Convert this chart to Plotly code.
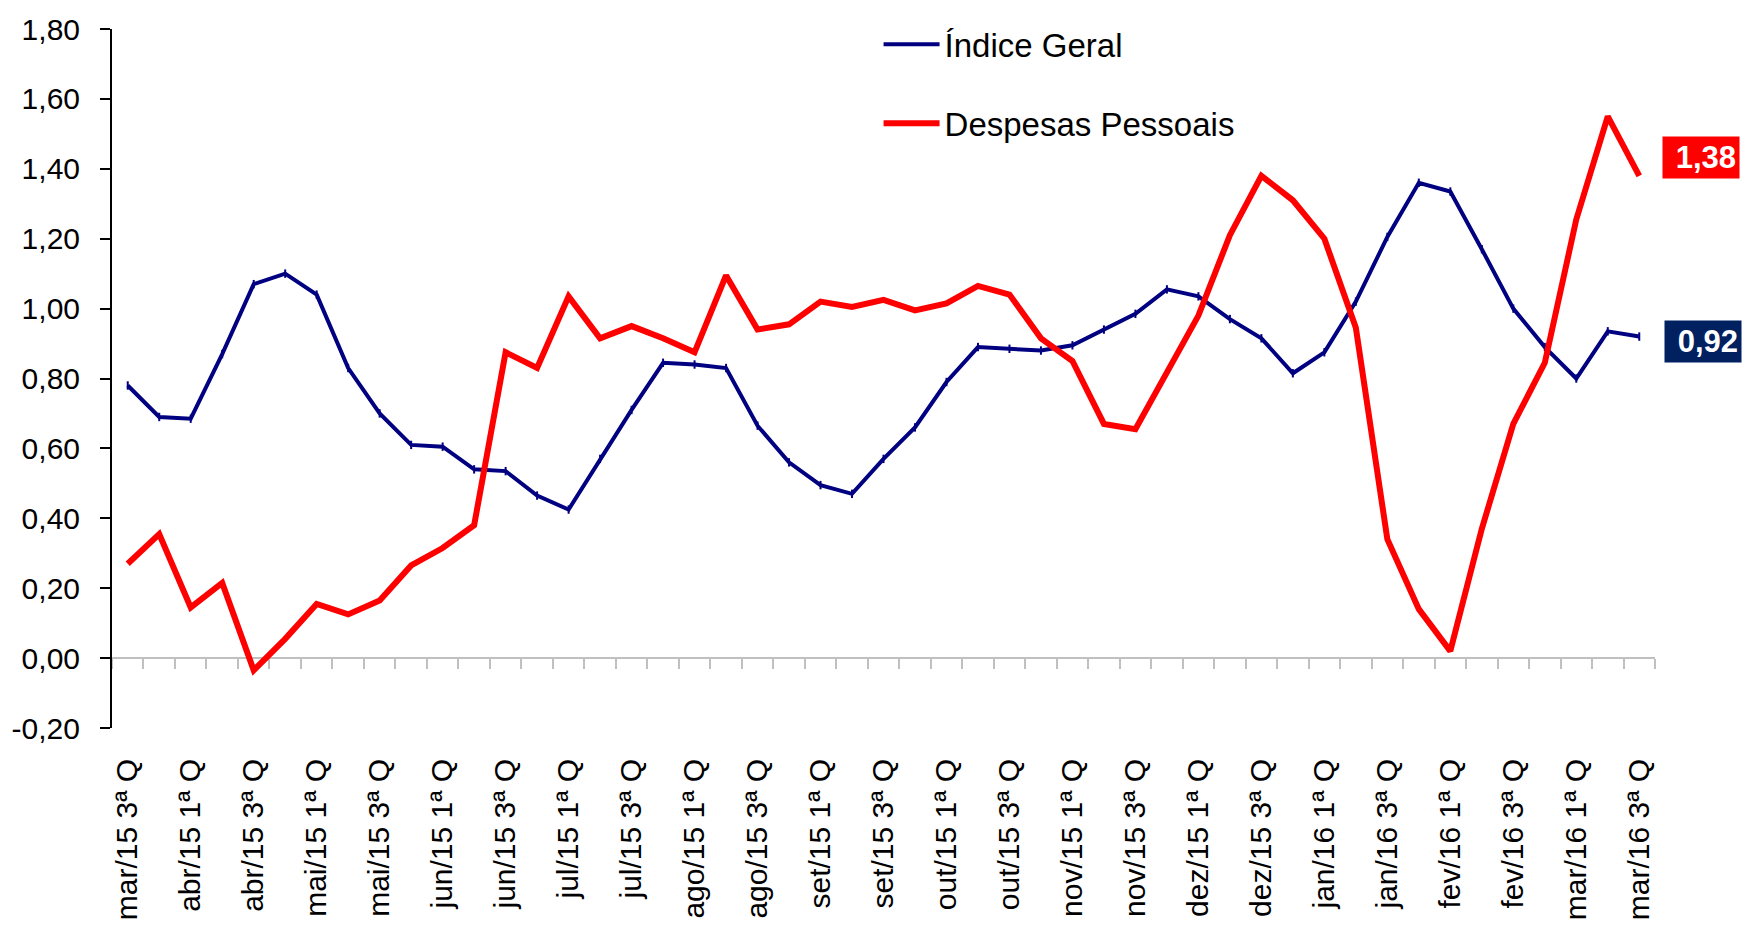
import plotly.graph_objects as go

# ---- data -----------------------------------------------------------------
months = ["mar/15", "abr/15", "mai/15", "jun/15", "jul/15", "ago/15", "set/15",
          "out/15", "nov/15", "dez/15", "jan/16", "fev/16", "mar/16"]
quads = ["1ª Q", "2ª Q", "3ª Q", "4ª Q"]

categories = ([f"{months[0]} {q}" for q in quads[2:]]
              + [f"{m} {q}" for m in months[1:-1] for q in quads]
              + [f"{months[-1]} {q}" for q in quads[:3]])

indice_geral = [0.78, 0.69, 0.685, 0.87, 1.07, 1.10, 1.04, 0.83, 0.70, 0.61,
                0.605, 0.54, 0.535, 0.465, 0.425, 0.57, 0.71, 0.845, 0.84, 0.83,
                0.665, 0.56, 0.495, 0.47, 0.57, 0.66, 0.79, 0.89, 0.885, 0.88,
                0.895, 0.94, 0.985, 1.055, 1.035, 0.97, 0.915, 0.815, 0.875, 1.02,
                1.205, 1.36, 1.335, 1.17, 1.00, 0.89, 0.80, 0.935, 0.92]

despesas_pessoais = [0.27, 0.355, 0.145, 0.215, -0.035, 0.055, 0.155, 0.125, 0.165, 0.265,
                     0.315, 0.38, 0.875, 0.83, 1.035, 0.915, 0.95, 0.915, 0.875, 1.095,
                     0.94, 0.955, 1.02, 1.005, 1.025, 0.995, 1.015, 1.065, 1.04, 0.915,
                     0.85, 0.67, 0.655, 0.82, 0.98, 1.21, 1.38, 1.31, 1.20, 0.945,
                     0.34, 0.14, 0.02, 0.37, 0.67, 0.845, 1.255, 1.55, 1.38]

tick_labels = [c for c in categories if c.split(" ")[1] in ("1ª", "3ª")]
y_ticks = [-0.2, 0.0, 0.2, 0.4, 0.6, 0.8, 1.0, 1.2, 1.4, 1.6, 1.8]

# ---- styling --------------------------------------------------------------
FONT = "Liberation Sans, Arial, sans-serif"
NAVY = "#000080"
RED = "#FF0000"
BOX_NAVY = "#002060"


def fmt(v):
    return f"{v:.2f}".replace(".", ",")


fig = go.Figure()

fig.add_trace(go.Scatter(
    x=categories, y=indice_geral, name="Índice Geral", mode="lines",
    line=dict(color=NAVY, width=4),
    legendgroup="a",
))
fig.add_trace(go.Scatter(
    x=categories, y=indice_geral, mode="markers", showlegend=False,
    marker=dict(symbol="line-ns", size=6, color=NAVY, line=dict(color=NAVY, width=2)),
    hoverinfo="skip", legendgroup="a",
))
fig.add_trace(go.Scatter(
    x=categories, y=despesas_pessoais, name="Despesas Pessoais", mode="lines",
    line=dict(color=RED, width=6),
    legendgroup="b",
))
# helper trace for the zero-line category axis
fig.add_trace(go.Scatter(
    x=categories, y=despesas_pessoais, xaxis="x2", mode="lines",
    line=dict(width=0), opacity=0, showlegend=False, hoverinfo="skip",
))

fig.add_annotation(
    x=categories[-1], y=despesas_pessoais[-1], text=f"<b>{fmt(despesas_pessoais[-1])}</b>",
    showarrow=False, xanchor="left", yanchor="middle", xshift=23, yshift=18,
    font=dict(family=FONT, size=31, color="white"), bgcolor=RED,
    width=70, align="right", borderpad=3,
)
fig.add_annotation(
    x=categories[-1], y=indice_geral[-1], text=f"<b>{fmt(indice_geral[-1])}</b>",
    showarrow=False, xanchor="left", yanchor="middle", xshift=25, yshift=-5,
    font=dict(family=FONT, size=31, color="white"), bgcolor=BOX_NAVY,
    width=70, align="right", borderpad=3,
)

fig.update_layout(
    width=1754, height=932,
    margin=dict(l=111, r=99, t=19, b=195, pad=0),
    paper_bgcolor="white", plot_bgcolor="white",
    font=dict(family=FONT, color="black"),
    showlegend=True,
    legend=dict(
        x=0.4968, y=1.018, xanchor="left", yanchor="top",
        font=dict(family=FONT, size=33, color="black"),
        bgcolor="rgba(0,0,0,0)", tracegroupgap=33, itemwidth=56,
        traceorder="grouped",
    ),
    xaxis=dict(
        type="category", categoryorder="array", categoryarray=categories,
        range=[-0.5, len(categories) - 0.5],
        tickmode="array", tickvals=tick_labels, ticktext=tick_labels,
        tickangle=-90, tickfont=dict(family=FONT, size=30, color="black"),
        showgrid=False, zeroline=False, showline=False, ticks="",
        ticklabelstandoff=24,
    ),
    xaxis2=dict(
        type="category", categoryorder="array", categoryarray=categories,
        overlaying="x", anchor="free", position=0.1, side="bottom",
        matches="x", showticklabels=False, showgrid=False, zeroline=False,
        showline=True, linecolor="#c0c0c0", linewidth=2,
        ticks="outside", tickson="boundaries", ticklen=10, tickwidth=2,
        tickcolor="#c0c0c0", layer="below traces",
    ),
    yaxis=dict(
        range=[-0.2, 1.8], tickmode="array", tickvals=y_ticks,
        ticktext=[fmt(v) for v in y_ticks],
        tickfont=dict(family=FONT, size=30, color="black"),
        showgrid=False, zeroline=False, showline=True, linecolor="black",
        linewidth=2, ticks="outside", ticklen=10, tickwidth=2, tickcolor="black",
        ticklabelstandoff=14,
    ),
)

fig.write_html("out.html", config={"displayModeBar": False},
               post_script="document.body.style.margin='0';document.body.style.overflow='hidden';")
